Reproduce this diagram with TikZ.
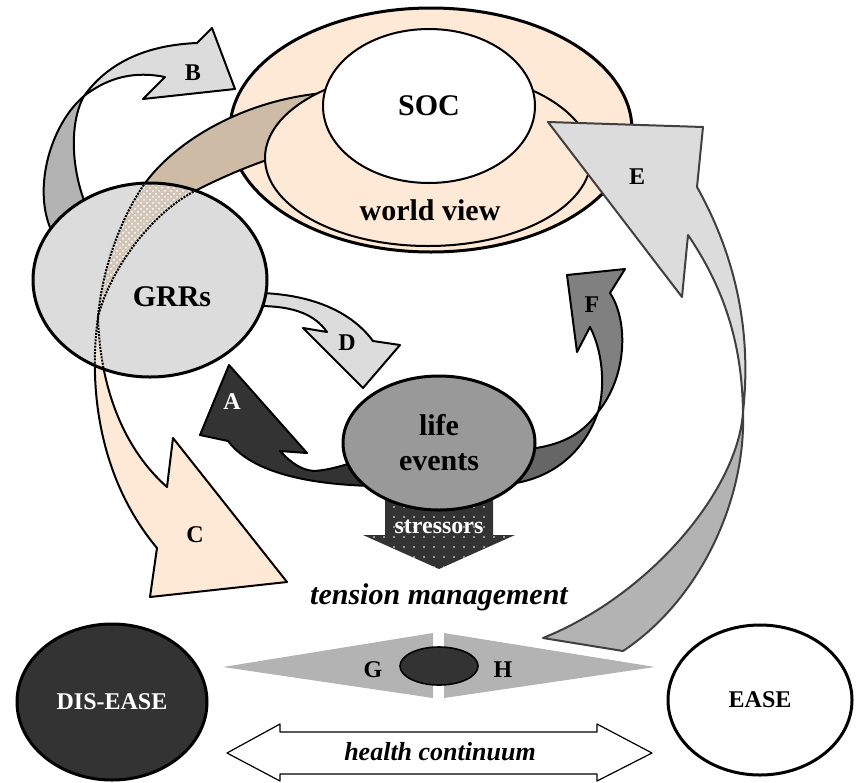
\documentclass[tikz,border=0pt]{standalone}
\usepackage{fontspec}
\setmainfont{Liberation Serif}
\usetikzlibrary{shapes.geometric,patterns}
\definecolor{peach}{HTML}{FDE9D5}
\definecolor{tanband}{HTML}{CDBBA6}
\definecolor{paleg}{HTML}{DCDCDC}
\definecolor{midg}{HTML}{B3B3B3}
\definecolor{lifeg}{HTML}{999999}
\definecolor{fgrey}{HTML}{808080}
\definecolor{fdark}{HTML}{666666}
\definecolor{dark}{HTML}{333333}
\definecolor{egrey}{HTML}{404040}
% the C band, back and front side of the twist
\newcommand\backband{(340,92) .. controls (250,95) and (175,140) .. (143,186) .. controls (120,220) and (102,270) .. (98,317) .. controls (110,270) and (150,215) .. (193,192) .. controls (220,178) and (260,160) .. (300,150) -- cycle}
\newcommand\frontband{(98,317) .. controls (88,390) and (100,480) .. (157,548) -- (150,597) -- (287,582) -- (173,438) -- (167,487) .. controls (125,450) and (100,390) .. (98,317) -- cycle}
\begin{document}
\begin{tikzpicture}[x=0.5pt,y=-0.5pt, line join=round,
	blob/.style={ellipse,draw,line width=1.5pt,inner sep=0pt},
	blockarr/.style={draw,line width=1pt},
	lbl/.style={font=\bfseries\fontsize{12}{14}\selectfont},
	big/.style={font=\bfseries\fontsize{15}{17.5}\selectfont}]
	\useasboundingbox (0,0) rectangle (856,782);
	% B
	\filldraw[blockarr,fill=midg] (84,96) .. controls (50,125) and (32,190) .. (52,232) -- (88,210) .. controls (72,175) and (68,125) .. (84,96) -- cycle;
	\filldraw[blockarr,fill=paleg] (84,96) .. controls (110,60) and (150,45) .. (197,43) -- (212,28) -- (235,89) -- (143,99) -- (165,77) .. controls (130,70) and (105,80) .. (84,96) -- cycle;
	\node[lbl] (lb) at (193,73) {B};
	% world view and SOC
	\node[blob,fill=peach,minimum width=201pt,minimum height=122pt] (world) at (431,130) {};
	\filldraw[blockarr,fill=tanband] \backband;
	\node[blob,line width=1pt,fill=peach,minimum width=163pt,minimum height=88pt] (view) at (428,158) {};
	\node[big] (viewtext) at (430,210) {world view};
	\node[blob,line width=1pt,fill=white,minimum width=106pt,minimum height=77pt,big] (soc) at (429,106) {SOC};
	% C
	\filldraw[blockarr,fill=peach] \frontband;
	\node[lbl] (lc) at (195,535) {C};
	% D
	\filldraw[blockarr,fill=paleg] (262,293) .. controls (310,295) and (350,310) .. (373,341) -- (400,345) -- (363,388) -- (303,328) -- (327,332) .. controls (315,315) and (295,306) .. (258,306) -- cycle;
	\node[lbl] (ld) at (347,343) {D};
	% A
	\filldraw[blockarr,fill=dark] (372,486) .. controls (300,484) and (250,470) .. (228,441) -- (200,435) -- (229,365) -- (307,453) -- (280,451) .. controls (292,464) and (302,470) .. (314,471) .. controls (330,470) and (345,465) .. (360,460) -- cycle;
	\node[lbl,text=white] (la) at (232,402) {A};
	% F
	\filldraw[blockarr,fill=fdark] (598,412) .. controls (580,438) and (555,447) .. (520,450) -- (510,484) .. controls (555,478) and (585,450) .. (598,412) -- cycle;
	\filldraw[blockarr,fill=fgrey] (598,412) .. controls (628,375) and (628,320) .. (610,293) -- (625,269) -- (567,275) -- (577,352) -- (590,327) .. controls (602,350) and (606,385) .. (598,412) -- cycle;
	\node[lbl] (lf) at (592,305) {F};
	% stressors
	\fill[dark] (385,480) -- (385,535) -- (363,535) -- (439,569) -- (515,535) -- (493,535) -- (493,480) -- cycle;
	\begin{scope}
		\clip (385,480) -- (385,535) -- (363,535) -- (439,569) -- (515,535) -- (493,535) -- (493,480) -- cycle;
		\foreach \i in {0,...,15}
			\foreach \j in {0,...,6}
				\fill[white] (364+\i*10,507+\j*10) circle (0.45pt);
	\end{scope}
	\node[lbl,text=white] (stress) at (439,527) {stressors};
	% GRRs with the band seen through it
	\fill[paleg] (150,280) ellipse [x radius=117, y radius=97];
	\begin{scope}
		\clip (150,280) ellipse [x radius=117, y radius=97];
		\fill[tanband,fill opacity=.65] \backband;
		\fill[peach,fill opacity=.65] \frontband;
		\fill[pattern=crosshatch dots,pattern color=white] \backband;
		\draw[line width=1pt,dash pattern=on 1pt off 0.6pt] \backband;
		\draw[line width=1pt,dash pattern=on 1pt off 0.6pt] \frontband;
	\end{scope}
	\node[blob,minimum width=117pt,minimum height=97pt] (grrs) at (150,280) {};
	\node[big] (grrtext) at (172,297) {GRRs};
	% life events
	\node[blob,fill=lifeg,minimum width=96pt,minimum height=67pt,big,align=center] (life) at (439,443) {life\\events};
	% E
	\filldraw[blockarr,draw=egrey,fill=midg] (743,412) .. controls (738,490) and (650,595) .. (543,638) -- (623,651) .. controls (700,600) and (746,500) .. (743,412) -- cycle;
	\filldraw[blockarr,draw=egrey,fill=paleg] (743,412) .. controls (752,330) and (735,255) .. (697,187) -- (703,127) -- (548,122) -- (682,297) -- (688,235) .. controls (722,285) and (742,340) .. (743,412) -- cycle;
	\node[lbl] (le) at (637,177) {E};
	% G and H
	\fill[midg] (223,667) -- (433,633) -- (433,698) -- cycle;
	\fill[midg] (444,633) -- (655,667) -- (444,698) -- cycle;
	\node[blob,line width=0.8pt,fill=dark,minimum width=39pt,minimum height=19pt] (hub) at (439,666) {};
	\node[lbl] (lg) at (373,670) {G};
	\node[lbl] (lh) at (503,670) {H};
	\node[font=\bfseries\itshape\fontsize{15}{17}\selectfont] (tension) at (439,597) {tension management};
	% ends of the continuum
	\node[blob,fill=dark,text=white,minimum width=95pt,minimum height=78pt,lbl] (disease) at (112,702) {DIS-EASE};
	\node[blob,fill=white,minimum width=92pt,minimum height=75pt,lbl] (ease) at (760,700) {EASE};
	\draw[line width=0.6pt,fill=white] (227,753) -- (280,724) -- (280,732) -- (597,732) -- (597,724) -- (652,753) -- (597,781) -- (597,774) -- (280,774) -- (280,781) -- cycle;
	\node[font=\bfseries\itshape\fontsize{13}{15}\selectfont] (cont) at (440,752) {health continuum};
\end{tikzpicture}
\end{document}
